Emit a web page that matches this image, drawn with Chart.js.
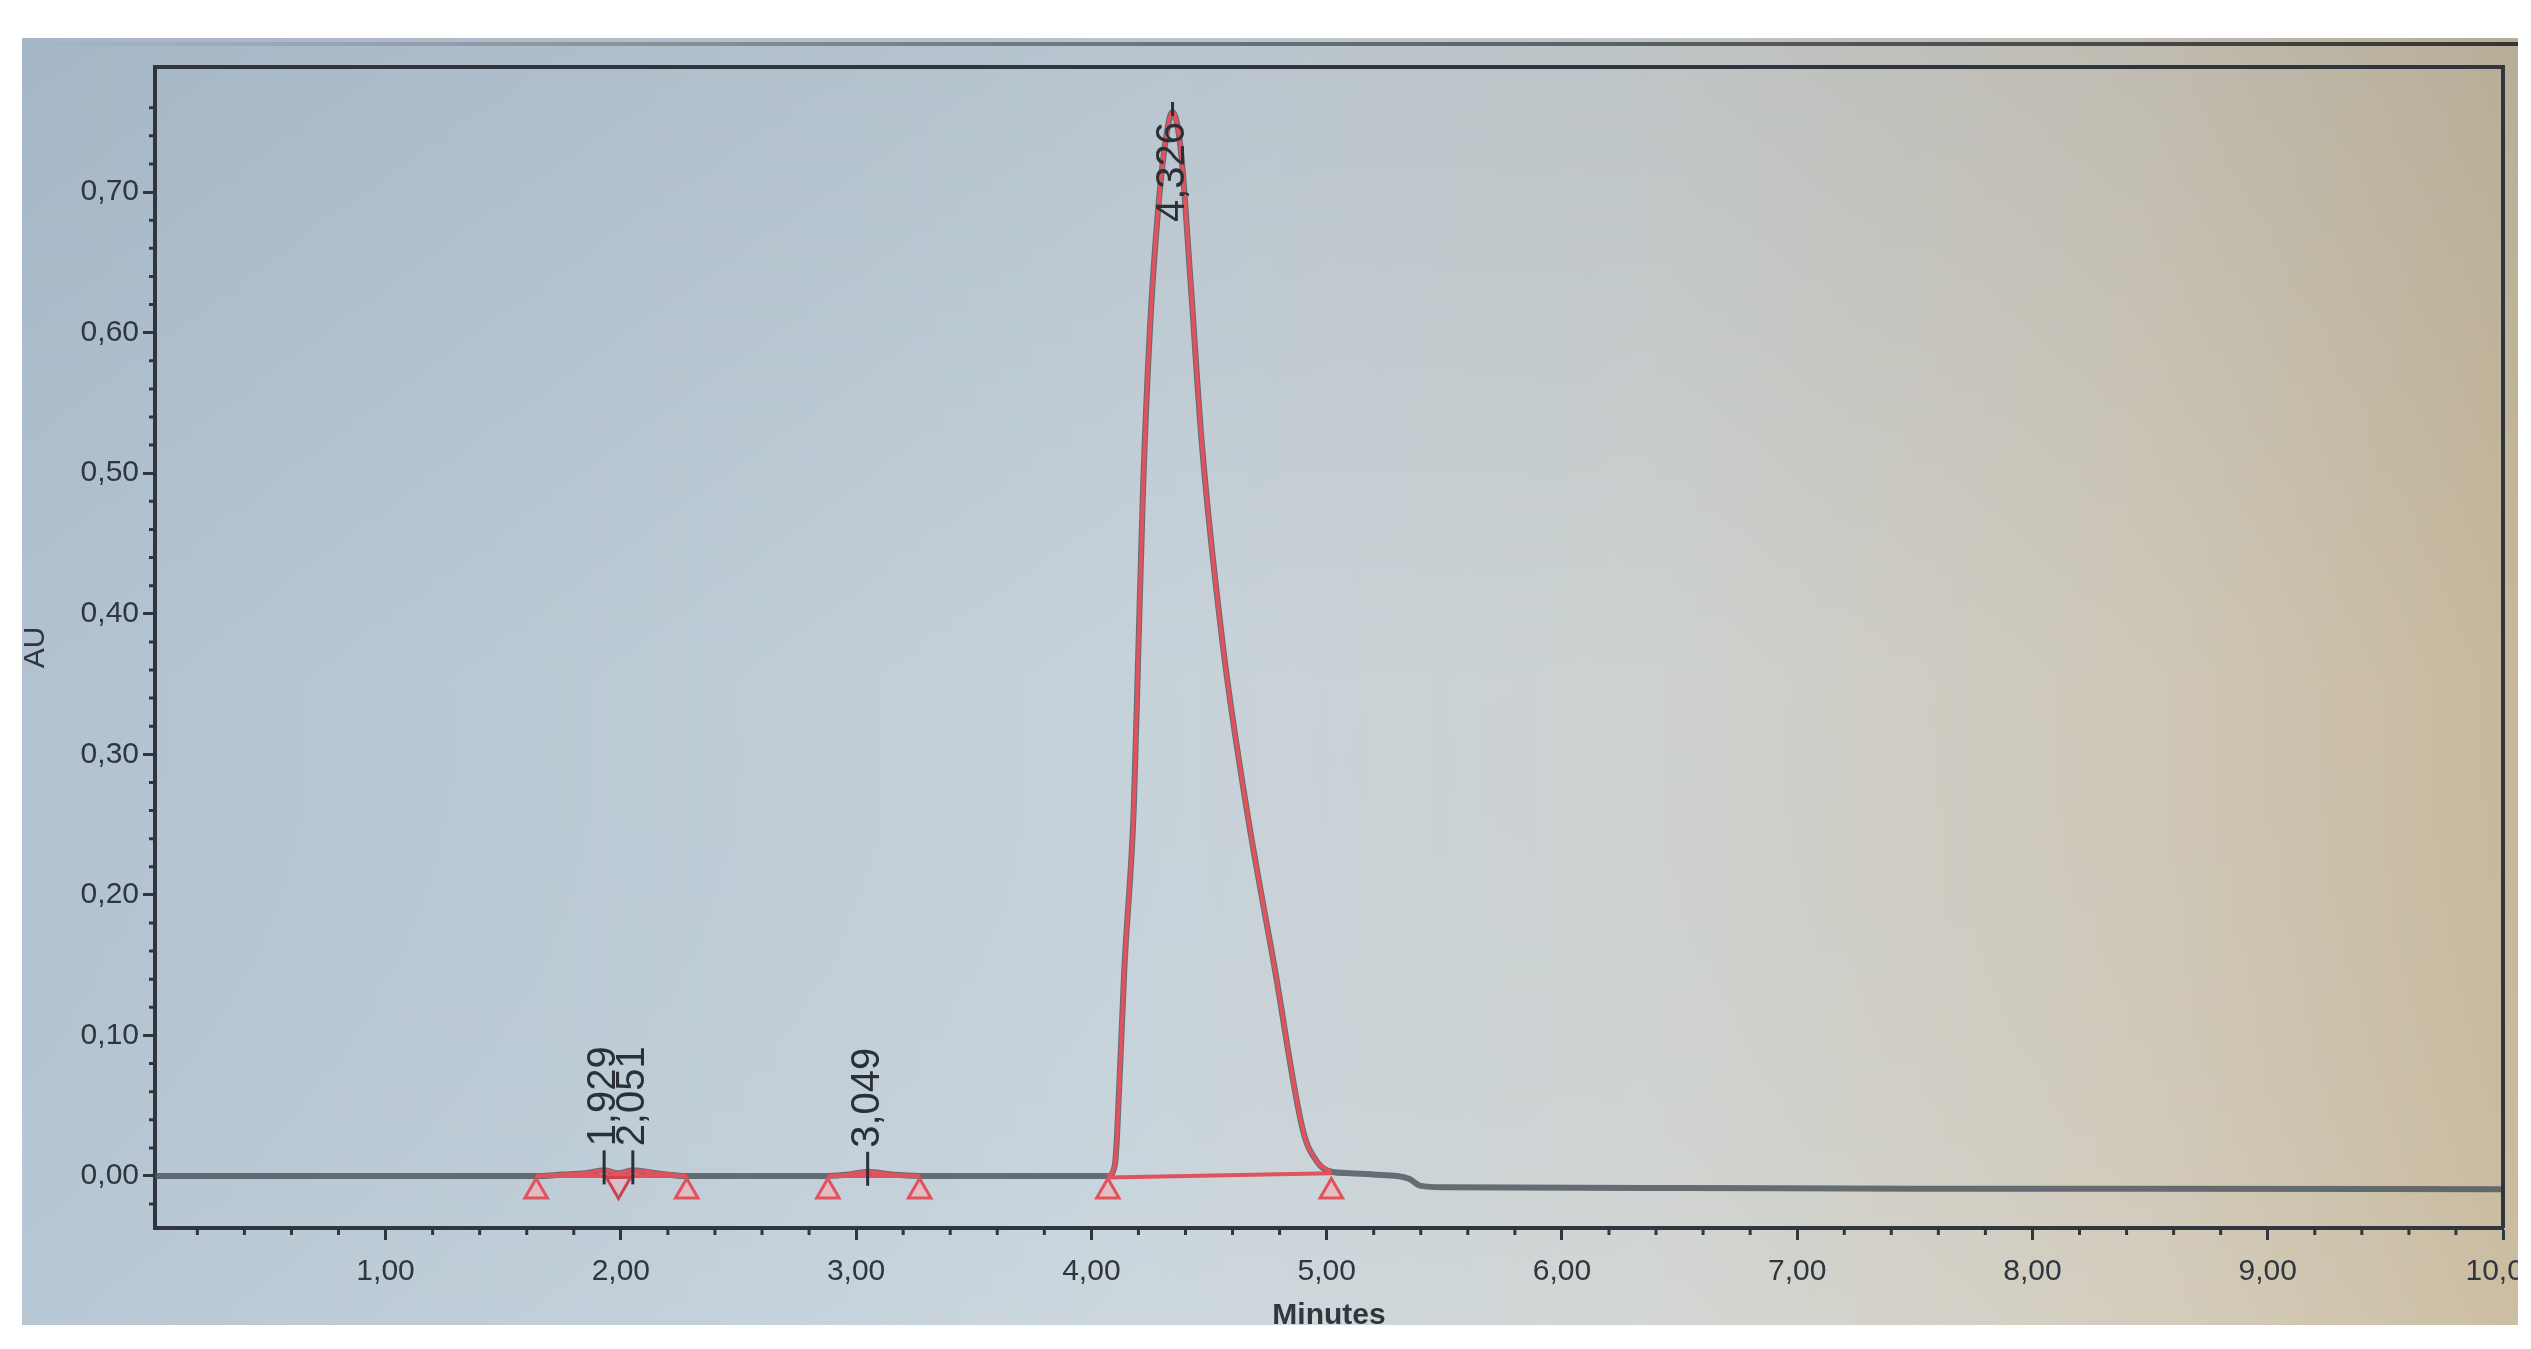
<!DOCTYPE html>
<html>
<head>
<meta charset="utf-8">
<title>Chromatogram</title>
<script src="https://cdn.jsdelivr.net/npm/chart.js@4.4.0/dist/chart.umd.min.js"></script>
<style>
    html, body { margin: 0; padding: 0; background: #ffffff; overflow: hidden; }
    #wrap { width: 2531px; height: 1349px; position: relative; }
</style>
</head>
<body>
<div id="wrap"><canvas id="chromChart"></canvas></div>
<script>
// Traza del cromatograma (minutos, AU)
const traceTime = [
    0.02, 0.5, 1.0, 1.5, 1.64, 1.75, 1.85, 1.929, 1.99, 2.051, 2.15, 2.28,
    2.5, 2.88, 2.97, 3.049, 3.15, 3.27, 3.6, 4.0, 4.07, 4.10, 4.11, 4.14,
    4.18, 4.20, 4.22, 4.25, 4.28, 4.31, 4.345, 4.38, 4.42, 4.47, 4.56, 4.66,
    4.78, 4.90, 4.96, 5.02, 5.10, 5.20, 5.30, 5.35, 5.40, 5.50, 6.5, 7.5,
    8.5, 10.0,
];
const traceAU = [
    0.000, 0.000, 0.000, 0.000, 0.000, 0.001, 0.002, 0.004, 0.002, 0.004, 0.002, 0.000,
    0.000, 0.000, 0.001, 0.003, 0.001, 0.000, 0.000, 0.000, 0.000, 0.008, 0.032, 0.147,
    0.261, 0.376, 0.491, 0.606, 0.680, 0.730, 0.757, 0.730, 0.640, 0.520, 0.376, 0.261,
    0.147, 0.032, 0.010, 0.003, 0.002, 0.001, 0.000, -0.002, -0.007, -0.008, -0.0085, -0.009,
    -0.009, -0.0095,
];

// Picos integrados
const peakStart = [1.64, 2.88, 4.07];
const peakEnd = [2.28, 3.27, 5.02];
const baseStartAU = [0.000, 0.000, -0.001];
const baseEndAU = [0.000, 0.000, 0.002];
const markerAU = -0.011;
const valleyTime = [1.99];
const valleyAU = [-0.006];

// Etiquetas de tiempo de retencion
const peakLabelTime = [1.929, 2.051, 3.049, 4.345];
const peakLabelAU = [0.004, 0.004, 0.003, 0.757];
const peakLabelText = ["1,929", "2,051", "3,049", "4,326"];

// Marcas de los ejes
const xTickValues = [1, 2, 3, 4, 5, 6, 7, 8, 9, 10];
const xTickLabels = ["1,00", "2,00", "3,00", "4,00", "5,00", "6,00", "7,00", "8,00", "9,00", "10,00"];
const yTickValues = [0, 0.1, 0.2, 0.3, 0.4, 0.5, 0.6, 0.7];
const yTickLabels = ["0,00", "0,10", "0,20", "0,30", "0,40", "0,50", "0,60", "0,70"];

const RED = "#e0525c";
const DARK = "#2f363d";
const FONT = "'Liberation Sans', Arial, sans-serif";
const PHOTO = { left: 22, top: 38, right: 2518, bottom: 1325 };

const tracePoints = traceTime.map((t, i) => ({ x: t, y: traceAU[i] }));

const redSegments = peakStart.map((s, k) => ({
    type: "line",
    data: tracePoints.filter((p) => p.x >= s && p.x <= peakEnd[k]),
    borderColor: RED,
    borderWidth: 4,
    pointRadius: 0,
    cubicInterpolationMode: "monotone",
    order: 3,
}));

const baselines = peakStart.map((s, k) => ({
    type: "line",
    data: [
        { x: s, y: baseStartAU[k] },
        { x: peakEnd[k], y: baseEndAU[k] },
    ],
    borderColor: RED,
    borderWidth: 4,
    pointRadius: 0,
    order: 2,
}));

const markerPoints = [];
peakStart.forEach((s, k) => {
    markerPoints.push({ x: s, y: markerAU });
    markerPoints.push({ x: peakEnd[k], y: markerAU });
});

function labelFor(values, labels, v) {
    const i = values.findIndex((t) => Math.abs(t - v) < 1e-6);
    return i >= 0 ? labels[i] : "";
}

// Fondo de foto y recorte
const photoPlugin = {
    id: "photo",
    beforeDraw(chart) {
        const ctx = chart.ctx;
        const w = PHOTO.right - PHOTO.left;
        const h = PHOTO.bottom - PHOTO.top;
        ctx.save();
        ctx.fillStyle = "#ffffff";
        ctx.fillRect(0, 0, chart.width, chart.height);
        const gx = ctx.createLinearGradient(PHOTO.left, 0, PHOTO.right, 0);
        gx.addColorStop(0, "rgb(180,196,210)");
        gx.addColorStop(0.45, "rgb(201,213,220)");
        gx.addColorStop(0.65, "rgb(208,212,210)");
        gx.addColorStop(0.85, "rgb(210,202,186)");
        gx.addColorStop(1, "rgb(201,186,156)");
        ctx.fillStyle = gx;
        ctx.fillRect(PHOTO.left, PHOTO.top, w, h);
        const gy = ctx.createLinearGradient(0, PHOTO.top, 0, PHOTO.bottom);
        gy.addColorStop(0, "rgba(60,80,110,0.12)");
        gy.addColorStop(0.5, "rgba(60,80,110,0.02)");
        gy.addColorStop(1, "rgba(255,255,255,0.06)");
        ctx.fillStyle = gy;
        ctx.fillRect(PHOTO.left, PHOTO.top, w, h);
        // linea superior de la foto
        const gl = ctx.createLinearGradient(PHOTO.left, 0, PHOTO.right, 0);
        gl.addColorStop(0, "rgba(40,48,56,0)");
        gl.addColorStop(0.4, "rgba(40,48,56,0.5)");
        gl.addColorStop(1, "rgba(40,40,40,0.9)");
        ctx.strokeStyle = gl;
        ctx.lineWidth = 4;
        ctx.beginPath();
        ctx.moveTo(PHOTO.left, PHOTO.top + 6);
        ctx.lineTo(PHOTO.right, PHOTO.top + 6);
        ctx.stroke();
        ctx.restore();
    },
    afterDatasetsDraw(chart) {
        const { ctx, chartArea, scales } = chart;
        const x = scales.x;
        const y = scales.y;
        ctx.save();
        // marco superior y derecho
        ctx.strokeStyle = DARK;
        ctx.lineWidth = 4;
        ctx.beginPath();
        ctx.moveTo(chartArea.left, chartArea.top);
        ctx.lineTo(chartArea.right, chartArea.top);
        ctx.lineTo(chartArea.right, chartArea.bottom);
        ctx.stroke();
        // marcas menores
        ctx.lineWidth = 3;
        ctx.beginPath();
        for (let t = 0.2; t < 10; t += 0.2) {
            if (Math.abs(t - Math.round(t)) < 1e-6) continue;
            const px = x.getPixelForValue(t);
            ctx.moveTo(px, chartArea.bottom);
            ctx.lineTo(px, chartArea.bottom + 7);
        }
        for (let v = -0.02; v < 0.78; v += 0.02) {
            if (Math.abs(v * 10 - Math.round(v * 10)) < 1e-6) continue;
            const py = y.getPixelForValue(v);
            ctx.moveTo(chartArea.left, py);
            ctx.lineTo(chartArea.left - 6, py);
        }
        ctx.stroke();
        // etiquetas de picos
        ctx.font = "40px " + FONT;
        ctx.fillStyle = "#2a3036";
        ctx.strokeStyle = "#2a3036";
        ctx.lineWidth = 3;
        ctx.textBaseline = "middle";
        peakLabelTime.forEach((t, i) => {
            const px = x.getPixelForValue(t);
            const py = y.getPixelForValue(peakLabelAU[i]);
            const tw = ctx.measureText(peakLabelText[i]).width;
            const up = py - 26 - tw > chartArea.top;
            ctx.beginPath();
            if (up) {
                ctx.moveTo(px, py + 14);
                ctx.lineTo(px, py - 20);
            } else {
                ctx.moveTo(px, py + 4);
                ctx.lineTo(px, py - 10);
            }
            ctx.stroke();
            ctx.save();
            ctx.translate(px, up ? py - 24 : py + 10);
            ctx.rotate(-Math.PI / 2);
            ctx.textAlign = up ? "left" : "right";
            ctx.fillText(peakLabelText[i], 0, 0);
            ctx.restore();
        });
        ctx.restore();
    },
    afterDraw(chart) {
        const ctx = chart.ctx;
        ctx.save();
        ctx.fillStyle = "#ffffff";
        ctx.fillRect(0, 0, chart.width, PHOTO.top);
        ctx.fillRect(0, PHOTO.bottom, chart.width, chart.height - PHOTO.bottom);
        ctx.fillRect(0, 0, PHOTO.left, chart.height);
        ctx.fillRect(PHOTO.right, 0, chart.width - PHOTO.right, chart.height);
        ctx.restore();
    },
};

const chromChart = document.getElementById("chromChart").getContext("2d");

let chart = new Chart(chromChart, {
    type: "line",
    data: {
        datasets: [
            {
                data: tracePoints,
                borderColor: "rgba(74,82,90,0.8)",
                borderWidth: 6,
                pointRadius: 0,
                cubicInterpolationMode: "monotone",
                order: 5,
            },
            ...redSegments,
            ...baselines,
            {
                type: "scatter",
                data: markerPoints,
                pointStyle: "triangle",
                pointRadius: 13,
                backgroundColor: "rgba(245,175,180,0.6)",
                borderColor: RED,
                borderWidth: 3,
                order: 1,
            },
            {
                type: "scatter",
                data: valleyTime.map((t, i) => ({ x: t, y: valleyAU[i] })),
                pointStyle: "triangle",
                rotation: 180,
                pointRadius: 14,
                backgroundColor: "rgba(245,175,180,0.4)",
                borderColor: "#c8444e",
                borderWidth: 3,
                order: 1,
            },
        ],
    },
    options: {
        responsive: true,
        maintainAspectRatio: false,
        animation: false,
        layout: { padding: { left: 0, top: 67, right: 28, bottom: 0 } },
        plugins: {
            legend: { display: false },
            tooltip: { enabled: false },
        },
        scales: {
            x: {
                type: "linear",
                min: 0.02,
                max: 10,
                border: { display: true, color: DARK, width: 4 },
                grid: {
                    drawOnChartArea: false,
                    drawTicks: true,
                    tickLength: 12,
                    tickColor: DARK,
                    tickWidth: 3,
                },
                ticks: {
                    stepSize: 1,
                    includeBounds: false,
                    autoSkip: false,
                    maxRotation: 0,
                    padding: 14,
                    color: DARK,
                    font: { family: FONT, size: 30 },
                    callback: (v) => labelFor(xTickValues, xTickLabels, v),
                },
                title: {
                    display: true,
                    text: "Minutes",
                    color: DARK,
                    font: { family: FONT, size: 30, weight: "bold" },
                    padding: { top: 0, bottom: 15 },
                },
                afterFit: (s) => {
                    s.height = 121;
                    s.paddingLeft = 0;
                    s.paddingRight = 0;
                },
            },
            y: {
                type: "linear",
                min: -0.037,
                max: 0.789,
                border: { display: true, color: DARK, width: 4 },
                grid: {
                    drawOnChartArea: false,
                    drawTicks: true,
                    tickLength: 12,
                    tickColor: DARK,
                    tickWidth: 3,
                },
                ticks: {
                    stepSize: 0.1,
                    includeBounds: false,
                    autoSkip: false,
                    padding: 4,
                    color: DARK,
                    font: { family: FONT, size: 30 },
                    callback: (v) => labelFor(yTickValues, yTickLabels, v),
                },
                title: {
                    display: true,
                    text: "AU",
                    color: DARK,
                    font: { family: FONT, size: 30 },
                    padding: { top: 18, bottom: 0 },
                },
                afterFit: (s) => {
                    s.width = 155;
                    s.paddingTop = 0;
                    s.paddingBottom = 0;
                },
            },
        },
    },
    plugins: [photoPlugin],
});
</script>
</body>
</html>
